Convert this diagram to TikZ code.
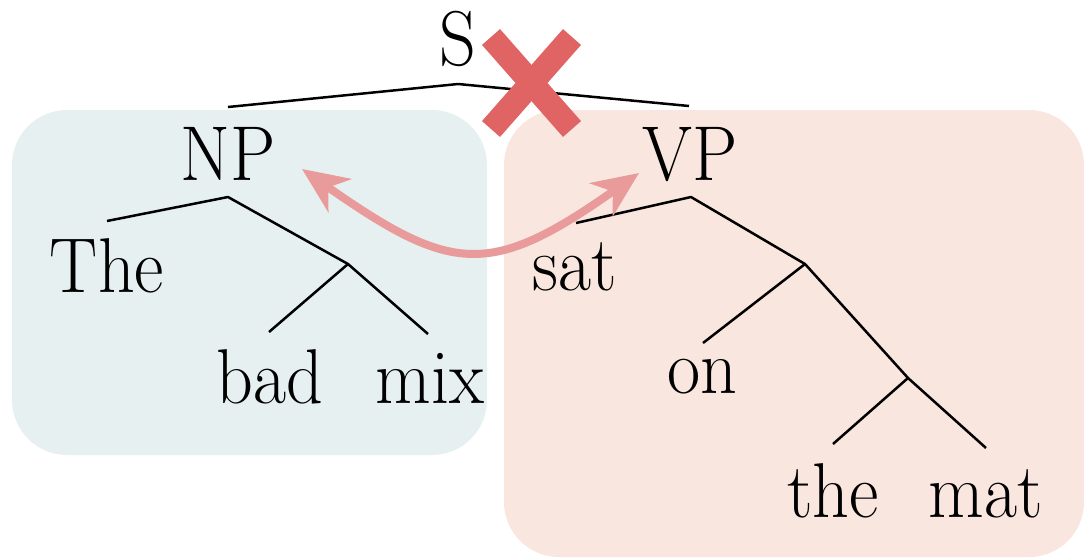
\documentclass[tikz,border=0pt]{standalone}
\usepackage{fontspec}
\usetikzlibrary{arrows.meta}
\definecolor{npbox}{HTML}{E6F0F0}
\definecolor{vpbox}{HTML}{F8E6DF}
\definecolor{xred}{HTML}{E06464}
\definecolor{arrowpink}{HTML}{E99A9A}
\newcommand{\tallword}[1]{\scalebox{1}[1.08]{#1}}
\tikzset{
  word/.style={anchor=base, inner sep=0pt, font=\fontsize{72}{80}\selectfont},
  branch/.style={draw=black, line width=2.5pt, line join=round},
  region/.style={rounded corners=55pt},
  crossmark/.style={draw=xred, line width=24pt, line cap=butt},
  swaparrow/.style={draw=arrowpink, line width=8pt, {Stealth[length=46pt,width=40pt,inset=14pt]}-{Stealth[length=46pt,width=40pt,inset=14pt]}}
}
\begin{document}
\begin{tikzpicture}[x=1pt,y=-1pt]
\useasboundingbox (0,0) rectangle (1084,558);
\begin{scope}
\clip (0,0) rectangle (1084,558);
\fill[npbox, region] (12,110) rectangle (487,455);
\fill[vpbox, region] (504,110) rectangle (1084,557);
\end{scope}
% words
\node[word] (S) at (458,65) {\tallword{S}};
\node[word] (NP) at (228,180) {\tallword{NP}};
\node[word] (VP) at (690,180) {\tallword{VP}};
\node[word] (The) at (107,292) {\tallword{The}};
\node[word] (bad) at (270,403) {\tallword{bad}};
\node[word] (mix) at (430,403) {\tallword{mix}};
\node[word] (sat) at (575,290) {\tallword{sat}};
\node[word] (on) at (702,393) {\tallword{on}};
\node[word] (the) at (833,517) {\tallword{the}};
\node[word] (mat) at (986,517) {\tallword{mat}};
% tree points
\coordinate (s-top) at (458,84);
\coordinate (s-l) at (228,107);
\coordinate (s-r) at (689,106);
\coordinate (np-top) at (228,197);
\coordinate (np-l) at (107,221);
\coordinate (np-j) at (348,264);
\coordinate (np-bad) at (269,332);
\coordinate (np-mix) at (428,334);
\coordinate (vp-top) at (691,197);
\coordinate (vp-l) at (576,223);
\coordinate (vp-j) at (805,264);
\coordinate (vp-on) at (703,343);
\coordinate (vp-j2) at (908,378);
\coordinate (vp-the) at (833,444);
\coordinate (vp-mat) at (986,448);
\draw[branch] (s-l) -- (s-top) -- (s-r);
\draw[branch] (np-l) -- (np-top) -- (np-j) -- (np-mix);
\draw[branch] (np-j) -- (np-bad);
\draw[branch] (vp-l) -- (vp-top) -- (vp-j) -- (vp-j2) -- (vp-mat);
\draw[branch] (vp-j) -- (vp-on);
\draw[branch] (vp-j2) -- (vp-the);
% cross
\coordinate (x-a) at (491,37);
\coordinate (x-b) at (572,129);
\coordinate (x-c) at (572,37);
\coordinate (x-d) at (491,129);
\draw[crossmark] (x-a) -- (x-b);
\draw[crossmark] (x-c) -- (x-d);
% swap arrow
\coordinate (np-arrow) at (302,169);
\coordinate (vp-arrow) at (639,173);
\draw[swaparrow] (np-arrow) .. controls (452,274) and (490,278) .. (vp-arrow);
\end{tikzpicture}
\end{document}
